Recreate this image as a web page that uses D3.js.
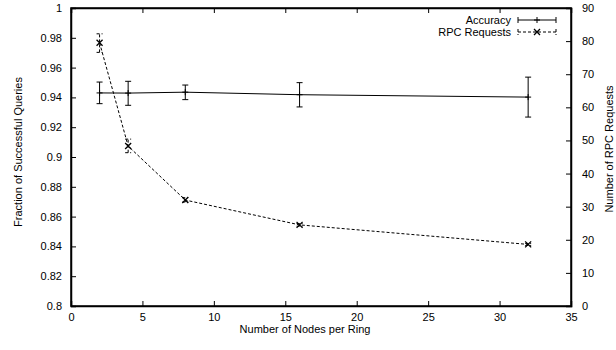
<!DOCTYPE html>
<html>
<head>
<meta charset="utf-8">
<script src="https://cdn.jsdelivr.net/npm/d3@7"></script>
<style>
  body { margin: 0; background: #fff; }
  svg text { font-family: "Liberation Sans", Arial, sans-serif; font-size: 11px; fill: #000; }
  .axis path, .axis line { stroke: #000; }
</style>
</head>
<body>
<div id="chart"></div>
<script>
// data
const nodes = [2, 4, 8, 16, 32];
const accuracy = [0.9430, 0.9429, 0.9435, 0.9418, 0.9402];
const accLow = [0.9358, 0.9347, 0.9385, 0.9336, 0.9268];
const accHigh = [0.9503, 0.9508, 0.9483, 0.9499, 0.9536];
const rpc = [79.5, 48.3, 32.0, 24.5, 18.6];
const rpcLow = [76.6, 46.3, 31.4, 24.1, 18.3];
const rpcHigh = [82.2, 50.4, 32.7, 24.9, 18.9];

const xTicks = [0, 5, 10, 15, 20, 25, 30, 35];
const yTicks = [0.8, 0.82, 0.84, 0.86, 0.88, 0.9, 0.92, 0.94, 0.96, 0.98, 1];
const y2Ticks = [0, 10, 20, 30, 40, 50, 60, 70, 80, 90];

const width = 616, height = 350;
const margin = {top: 8, right: 45, bottom: 44, left: 71};
const plotW = width - margin.left - margin.right;
const plotH = height - margin.top - margin.bottom;

const svg = d3.select('#chart').append('svg')
    .attr('width', width).attr('height', height);
const g = svg.append('g')
    .attr('transform', `translate(${margin.left},${margin.top})`);

const x = d3.scaleLinear([0, 35], [0, plotW]);
const y = d3.scaleLinear([0.8, 1], [plotH, 0]);
const y2 = d3.scaleLinear([0, 90], [plotH, 0]);

// axes, ticks pointing inward like gnuplot
g.append('g').attr('class', 'axis')
    .attr('transform', `translate(0,${plotH})`)
    .call(d3.axisBottom(x).tickValues(xTicks).tickSize(-5).tickPadding(7).tickFormat(d3.format('d')));
g.append('g').attr('class', 'axis')
    .call(d3.axisTop(x).tickValues(xTicks).tickSize(-5).tickFormat(''));
g.append('g').attr('class', 'axis')
    .call(d3.axisLeft(y).tickValues(yTicks).tickSize(-5).tickPadding(9).tickFormat(d => d3.format('')(+d.toFixed(2))));
g.append('g').attr('class', 'axis')
    .attr('transform', `translate(${plotW},0)`)
    .call(d3.axisRight(y2).tickValues(y2Ticks).tickSize(-5).tickPadding(11).tickFormat(d3.format('d')));
g.selectAll('.axis path').attr('stroke-width', 1.5);
g.selectAll('.axis text').style('font-size', '11px');

// box
g.append('rect').attr('width', plotW).attr('height', plotH)
    .attr('fill', 'none').attr('stroke', '#000').attr('stroke-width', 1.5);

// axis labels
svg.append('text').attr('x', margin.left + plotW / 2 - 16).attr('y', 333)
    .attr('text-anchor', 'middle').text('Number of Nodes per Ring');
svg.append('text').attr('transform', `translate(22,152)rotate(-90)`)
    .attr('text-anchor', 'middle').text('Fraction of Successful Queries');
svg.append('text').attr('transform', `translate(613,149)rotate(-90)`)
    .attr('text-anchor', 'middle').text('Number of RPC Requests');

const cap = 3;

// accuracy series
const accData = nodes.map((n, i) => ({x: n, v: accuracy[i], lo: accLow[i], hi: accHigh[i]}));
g.append('path').datum(accData)
    .attr('fill', 'none').attr('stroke', '#000').attr('stroke-width', 1)
    .attr('d', d3.line().x(d => x(d.x)).y(d => y(d.v)));
const accBars = g.selectAll('g.acc').data(accData).join('g').attr('class', 'acc');
accBars.append('path').attr('fill', 'none').attr('stroke', '#000')
    .attr('d', d => `M${x(d.x)},${y(d.lo)}V${y(d.hi)}M${x(d.x) - cap},${y(d.lo)}h${2 * cap}M${x(d.x) - cap},${y(d.hi)}h${2 * cap}`);
accBars.append('path').attr('fill', 'none').attr('stroke', '#000')
    .attr('d', d => `M${x(d.x) - 3},${y(d.v)}h6M${x(d.x)},${y(d.v) - 3}v6`);

// rpc series
const rpcData = nodes.map((n, i) => ({x: n, v: rpc[i], lo: rpcLow[i], hi: rpcHigh[i]}));
g.append('path').datum(rpcData)
    .attr('fill', 'none').attr('stroke', '#000').attr('stroke-width', 1)
    .attr('stroke-dasharray', '3,2')
    .attr('d', d3.line().x(d => x(d.x)).y(d => y2(d.v)));
const rpcBars = g.selectAll('g.rpc').data(rpcData).join('g').attr('class', 'rpc');
rpcBars.append('path').attr('fill', 'none').attr('stroke', '#000').attr('stroke-dasharray', '3,2')
    .attr('d', d => `M${x(d.x)},${y2(d.lo)}V${y2(d.hi)}M${x(d.x) - cap},${y2(d.lo)}h${2 * cap}M${x(d.x) - cap},${y2(d.hi)}h${2 * cap}`);
rpcBars.append('path').attr('fill', 'none').attr('stroke', '#000').attr('stroke-width', 1.3)
    .attr('d', d => `M${x(d.x) - 3},${y2(d.v) - 3}l6,6M${x(d.x) - 3},${y2(d.v) + 3}l6,-6`);

// legend
const leg = svg.append('g');
const legItems = [
  {label: 'Accuracy', y: 20, dash: null, mark: 'plus'},
  {label: 'RPC Requests', y: 32, dash: '3,2', mark: 'cross'}
];
legItems.forEach(it => {
  leg.append('text').attr('x', 511).attr('y', it.y + 3.5)
      .attr('text-anchor', 'end').text(it.label);
  const x0 = 518, x1 = 556, xm = (x0 + x1) / 2;
  leg.append('path').attr('fill', 'none').attr('stroke', '#000')
      .attr('stroke-dasharray', it.dash)
      .attr('d', `M${x0},${it.y}H${x1}M${x0},${it.y - 3}v6M${x1},${it.y - 3}v6`);
  if (it.mark === 'plus') {
    leg.append('path').attr('stroke', '#000')
        .attr('d', `M${xm - 3},${it.y}h6M${xm},${it.y - 3}v6`);
  } else {
    leg.append('path').attr('stroke', '#000').attr('stroke-width', 1.3)
        .attr('d', `M${xm - 3},${it.y - 3}l6,6M${xm - 3},${it.y + 3}l6,-6`);
  }
});
</script>
</body>
</html>
